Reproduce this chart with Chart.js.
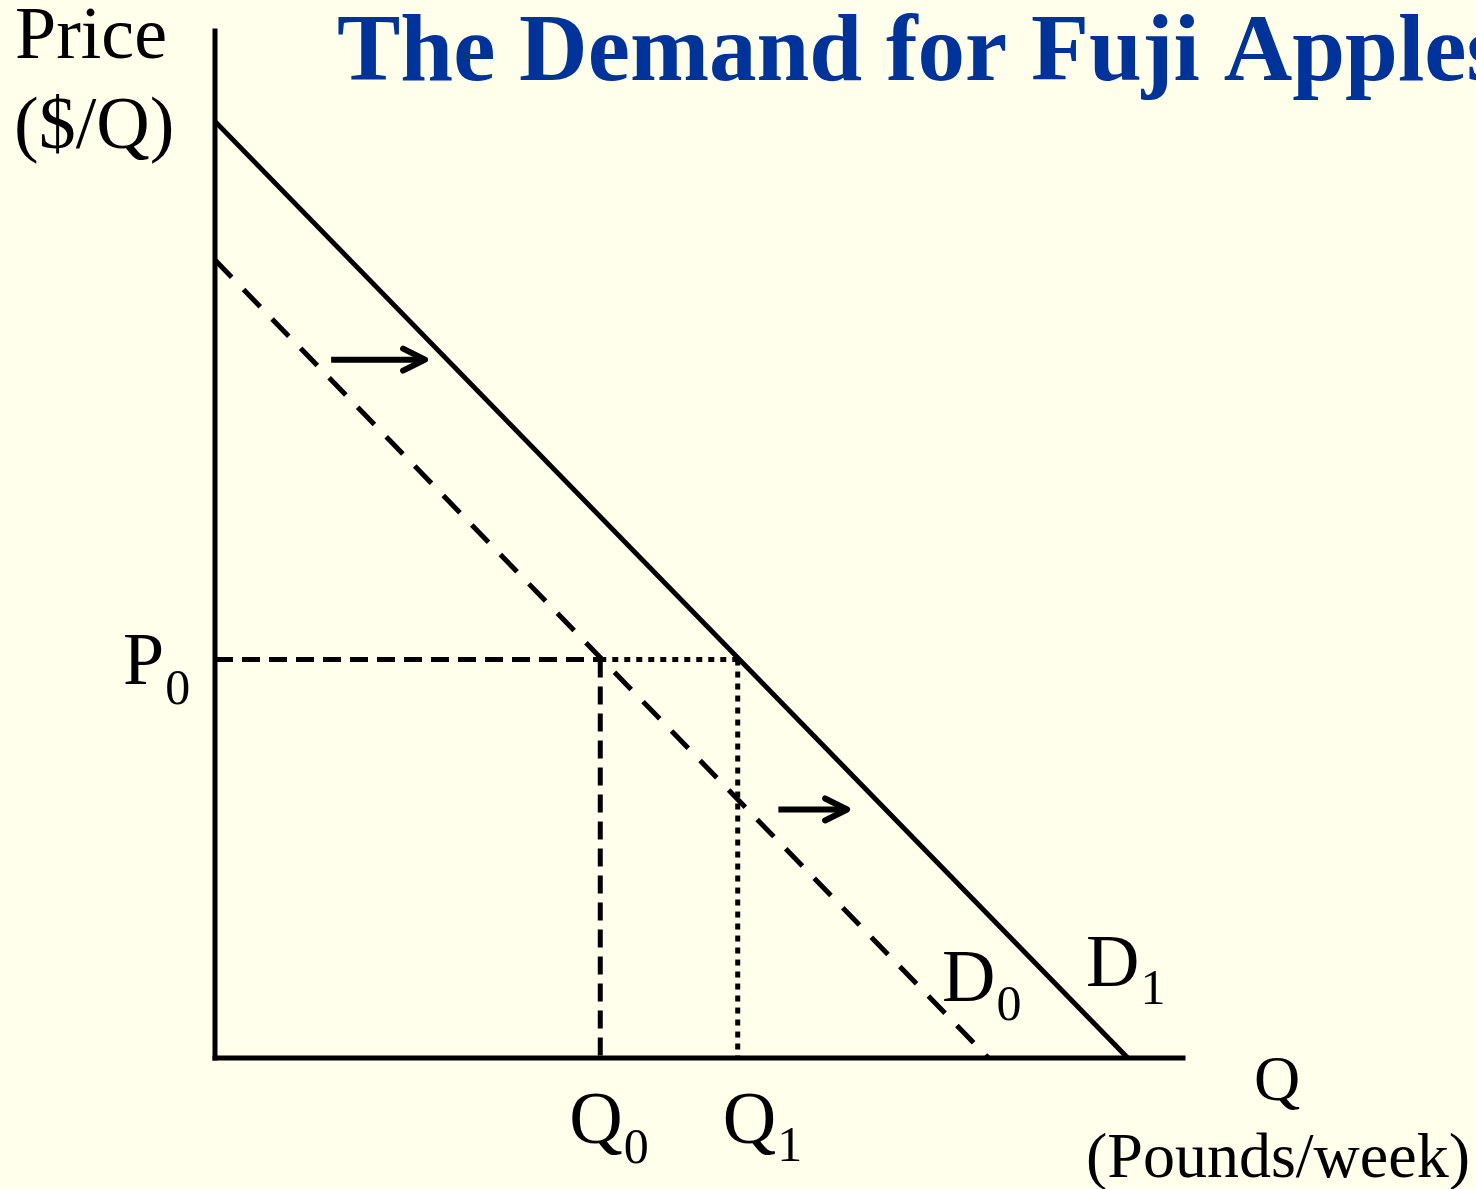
<html lang="en">

<head>
    <meta charset="UTF-8">
    <title>The Demand for Fuji Apples</title>
    <script src="https://cdn.jsdelivr.net/npm/chart.js"></script>
    <style>
        body { margin: 0; background: #FFFFEB; overflow: hidden; }
        canvas { display: block; }
    </style>
</head>

<body>
    <canvas id="chartCanvas" width="1476" height="1189"></canvas>
    <script>
// axis ranges (price and quantity, arbitrary units)
const qtyRange = [0, 10];
const priceRange = [0, 10];

// demand curves: quantity / price end points
const d0Qty = [0, 7.99];
const d0Price = [7.77, 0];
const d1Qty = [0, 9.43];
const d1Price = [9.12, 0];

// equilibrium price and quantities
const p0 = 3.88;
const q0 = 3.98;
const q1 = 5.40;

// shift arrows (from D0 towards D1)
const arrowQtyStart = [1.20, 5.82];
const arrowQtyEnd = [2.17, 6.53];
const arrowPrice = [6.80, 2.42];

const toPoints = (xs, ys) => xs.map((x, i) => ({ x: x, y: ys[i] }));

function lineSet(label, pts, dash, width) {
    return {
        label: label,
        data: pts,
        showLine: true,
        borderColor: '#000',
        borderWidth: width || 5,
        borderDash: dash || [],
        pointRadius: 0,
        fill: false,
        clip: false
    };
}

const datasets = [
    // axes
    Object.assign(lineSet('Price axis', toPoints([qtyRange[0], qtyRange[0]], [priceRange[0], priceRange[1]])), { borderCapStyle: 'square' }),
    Object.assign(lineSet('Quantity axis', toPoints([qtyRange[0], qtyRange[1]], [priceRange[0], priceRange[0]])), { borderCapStyle: 'square' }),
    // demand curves
    lineSet('D1', toPoints(d1Qty, d1Price)),
    lineSet('D0', toPoints(d0Qty, d0Price), [24, 17]),
    // guide lines
    lineSet('P0 to D0', toPoints([0, q0], [p0, p0]), [18, 9]),
    lineSet('D0 to D1', toPoints([q0, q1], [p0, p0]), [6, 6]),
    lineSet('Q0 drop', toPoints([q0, q0], [p0, 0]), [18, 9]),
    lineSet('Q1 drop', toPoints([q1, q1], [p0, 0]), [6, 6]),
];

// arrow shafts
arrowPrice.forEach((p, i) => {
    datasets.push(lineSet('shift ' + i, toPoints([arrowQtyStart[i], arrowQtyEnd[i]], [p, p]), [], 6));
});

const bgPlugin = {
    id: 'bg',
    beforeDraw(chart) {
        const ctx = chart.ctx;
        ctx.save();
        ctx.fillStyle = '#FFFFEB';
        ctx.fillRect(0, 0, chart.width, chart.height);
        ctx.restore();
    }
};

// arrow heads at the end of the shift arrows
const arrowPlugin = {
    id: 'arrowHeads',
    afterDatasetsDraw(chart) {
        const ctx = chart.ctx;
        const xs = chart.scales.x, ys = chart.scales.y;
        ctx.save();
        ctx.strokeStyle = '#000';
        ctx.lineWidth = 6;
        ctx.lineCap = 'round';
        ctx.lineJoin = 'round';
        arrowPrice.forEach((p, i) => {
            const tx = xs.getPixelForValue(arrowQtyEnd[i]);
            const ty = ys.getPixelForValue(p);
            ctx.beginPath();
            ctx.moveTo(tx - 22, ty - 11);
            ctx.lineTo(tx, ty);
            ctx.lineTo(tx - 22, ty + 11);
            ctx.stroke();
        });
        ctx.restore();
    }
};

const serif = '"Liberation Serif", "Times New Roman", serif';

function sub(ctx, main, s, x, y, dy, size, subSize) {
    ctx.font = size + 'px ' + serif;
    ctx.fillText(main, x, y);
    const w = ctx.measureText(main).width;
    ctx.font = subSize + 'px ' + serif;
    ctx.fillText(s, x + w + 1, y + dy);
}

const labelPlugin = {
    id: 'labels',
    afterDraw(chart) {
        const ctx = chart.ctx;
        const xs = chart.scales.x, ys = chart.scales.y;
        ctx.save();
        ctx.textBaseline = 'alphabetic';
        ctx.textAlign = 'left';

        // title
        ctx.fillStyle = '#003399';
        ctx.font = 'bold 95px ' + serif;
        ctx.fillText('The Demand for Fuji Apples', 337, 80);

        ctx.fillStyle = '#000';
        ctx.font = '74px ' + serif;
        ctx.fillText('Price', 15, 58);
        ctx.fillText('($/Q)', 14, 148);

        const pY = ys.getPixelForValue(p0);
        sub(ctx, 'P', '0', 123, pY + 24, 20, 74, 50);

        const axisY = ys.getPixelForValue(0);
        sub(ctx, 'Q', '0', xs.getPixelForValue(q0) - 31, axisY + 85, 20, 74, 50);
        sub(ctx, 'Q', '1', xs.getPixelForValue(q1) - 15, axisY + 85, 18, 74, 50);

        sub(ctx, 'D', '0', 942, 1001, 19, 74, 50);
        sub(ctx, 'D', '1', 1086, 986, 18, 74, 50);

        ctx.font = '64px ' + serif;
        ctx.fillText('Q', 1254, 1100);
        ctx.fillText('(Pounds/week)', 1086, 1177);
        ctx.restore();
    }
};

const chart = new Chart(document.getElementById('chartCanvas').getContext('2d'), {
    type: 'scatter',
    data: { datasets: datasets },
    options: {
        responsive: false,
        animation: false,
        events: [],
        layout: { padding: { left: 215, right: 293, top: 31, bottom: 131 } },
        plugins: { legend: { display: false }, tooltip: { enabled: false } },
        scales: {
            x: { type: 'linear', min: qtyRange[0], max: qtyRange[1], display: false },
            y: { type: 'linear', min: priceRange[0], max: priceRange[1], display: false }
        }
    },
    plugins: [bgPlugin, arrowPlugin, labelPlugin]
});
    </script>
</body>

</html>
